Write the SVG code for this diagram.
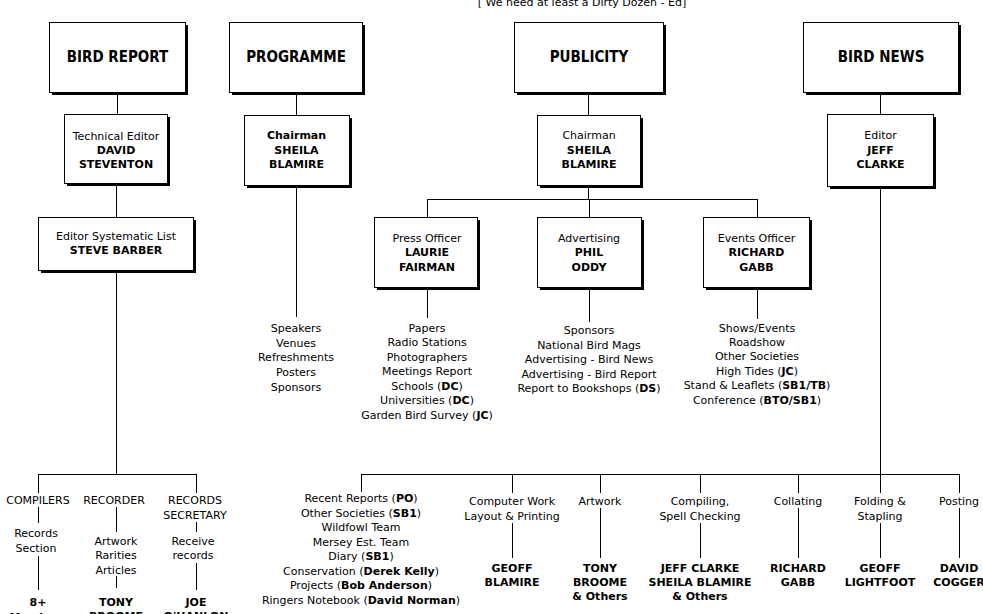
<svg xmlns="http://www.w3.org/2000/svg" width="983" height="614" viewBox="0 0 983 614">
<style>
.sh{fill:#000}
.bx{fill:#fff;stroke:#000;stroke-width:1}
.hd{font-family:"DejaVu Sans Condensed","DejaVu Sans",sans-serif;font-size:15px;font-weight:bold;fill:#000;text-anchor:middle}
.t{font-family:"DejaVu Sans",sans-serif;font-size:11px;fill:#000;text-anchor:middle}
.b{font-family:"DejaVu Sans",sans-serif;font-size:11px;font-weight:bold;fill:#000;text-anchor:middle}
.k{font-weight:bold}
.c line{stroke:#000;stroke-width:1;shape-rendering:crispEdges}
rect{shape-rendering:crispEdges}
</style>
<rect width="983" height="614" fill="#fff"/>
<text class="t" x="582" y="6" font-size="10">[ We need at least a Dirty Dozen - Ed]</text>

<g class="c" id="connectors">
<line x1="117.5" y1="92" x2="117.5" y2="114"/>
<line x1="116.5" y1="183" x2="116.5" y2="217"/>
<line x1="116.5" y1="270" x2="116.5" y2="474"/>
<line x1="38" y1="474.5" x2="197" y2="474.5"/>
<line x1="38.5" y1="474" x2="38.5" y2="493"/>
<line x1="196.5" y1="474" x2="196.5" y2="493"/>
<line x1="38.5" y1="507" x2="38.5" y2="523"/>
<line x1="38.5" y1="556" x2="38.5" y2="590"/>
<line x1="116.5" y1="507" x2="116.5" y2="532"/>
<line x1="116.5" y1="576" x2="116.5" y2="588"/>
<line x1="196.5" y1="522" x2="196.5" y2="532"/>
<line x1="196.5" y1="563" x2="196.5" y2="590"/>

<line x1="296.5" y1="92" x2="296.5" y2="115"/>
<line x1="296.5" y1="185" x2="296.5" y2="317"/>

<line x1="588.5" y1="92" x2="588.5" y2="115"/>
<line x1="588.5" y1="185" x2="588.5" y2="199"/>
<line x1="427" y1="199.5" x2="758" y2="199.5"/>
<line x1="427.5" y1="199" x2="427.5" y2="217"/>
<line x1="589.5" y1="199" x2="589.5" y2="217"/>
<line x1="757.5" y1="199" x2="757.5" y2="217"/>
<line x1="427.5" y1="287" x2="427.5" y2="318"/>
<line x1="589.5" y1="287" x2="589.5" y2="322"/>
<line x1="757.5" y1="287" x2="757.5" y2="319"/>

<line x1="880.5" y1="92" x2="880.5" y2="114"/>
<line x1="880.5" y1="186" x2="880.5" y2="493"/>
<line x1="361" y1="474.5" x2="960" y2="474.5"/>
<line x1="361.5" y1="474" x2="361.5" y2="492"/>
<line x1="512.5" y1="474" x2="512.5" y2="493"/>
<line x1="600.5" y1="474" x2="600.5" y2="493"/>
<line x1="700.5" y1="474" x2="700.5" y2="493"/>
<line x1="798.5" y1="474" x2="798.5" y2="493"/>
<line x1="959.5" y1="474" x2="959.5" y2="493"/>
<line x1="512.5" y1="523" x2="512.5" y2="558"/>
<line x1="600.5" y1="508" x2="600.5" y2="558"/>
<line x1="700.5" y1="523" x2="700.5" y2="558"/>
<line x1="798.5" y1="508" x2="798.5" y2="558"/>
<line x1="880.5" y1="523" x2="880.5" y2="558"/>
<line x1="959.5" y1="508" x2="959.5" y2="558"/>
</g>

<g id="bird-report">
<rect class="sh" x="52" y="25" width="136" height="70"/>
<rect class="bx" x="49.5" y="22.5" width="136" height="70"/>
<text class="hd" x="117.5" y="62">BIRD REPORT</text>
</g>
<g id="programme">
<rect class="sh" x="232" y="25" width="133" height="70"/>
<rect class="bx" x="229.5" y="22.5" width="133" height="70"/>
<text class="hd" x="296" y="62">PROGRAMME</text>
</g>
<g id="publicity">
<rect class="sh" x="517" y="25" width="149" height="70"/>
<rect class="bx" x="514.5" y="22.5" width="149" height="70"/>
<text class="hd" x="589" y="62">PUBLICITY</text>
</g>
<g id="bird-news">
<rect class="sh" x="806" y="25" width="155" height="70"/>
<rect class="bx" x="803.5" y="22.5" width="155" height="70"/>
<text class="hd" x="881" y="62">BIRD NEWS</text>
</g>

<g id="technical-editor">
<rect class="sh" x="67" y="117" width="103" height="69"/>
<rect class="bx" x="64.5" y="114.5" width="103" height="69"/>
<text class="t" x="116" y="140">Technical Editor</text>
<text class="b" x="116" y="154">DAVID</text>
<text class="b" x="116" y="168">STEVENTON</text>
</g>
<g id="editor-systematic-list">
<rect class="sh" x="41" y="220" width="155" height="53"/>
<rect class="bx" x="38.5" y="217.5" width="155" height="53"/>
<text class="t" x="116" y="240">Editor Systematic List</text>
<text class="b" x="116" y="254">STEVE BARBER</text>
</g>
<g id="programme-chairman">
<rect class="sh" x="247" y="118" width="105" height="70"/>
<rect class="bx" x="244.5" y="115.5" width="105" height="70"/>
<text class="b" x="296.5" y="139">Chairman</text>
<text class="b" x="296.5" y="154">SHEILA</text>
<text class="b" x="296.5" y="168">BLAMIRE</text>
</g>
<g id="publicity-chairman">
<rect class="sh" x="540" y="118" width="103" height="70"/>
<rect class="bx" x="537.5" y="115.5" width="103" height="70"/>
<text class="t" x="589" y="139">Chairman</text>
<text class="b" x="589" y="154">SHEILA</text>
<text class="b" x="589" y="168">BLAMIRE</text>
</g>
<g id="bird-news-editor">
<rect class="sh" x="830" y="117" width="106" height="72"/>
<rect class="bx" x="827.5" y="114.5" width="106" height="72"/>
<text class="t" x="880.5" y="139">Editor</text>
<text class="b" x="880.5" y="154">JEFF</text>
<text class="b" x="880.5" y="168">CLARKE</text>
</g>
<g id="press-officer">
<rect class="sh" x="377" y="220" width="103" height="70"/>
<rect class="bx" x="374.5" y="217.5" width="103" height="70"/>
<text class="t" x="427" y="242">Press Officer</text>
<text class="b" x="427" y="256">LAURIE</text>
<text class="b" x="427" y="271">FAIRMAN</text>
</g>
<g id="advertising">
<rect class="sh" x="540" y="220" width="104" height="70"/>
<rect class="bx" x="537.5" y="217.5" width="104" height="70"/>
<text class="t" x="589" y="242">Advertising</text>
<text class="b" x="589" y="256">PHIL</text>
<text class="b" x="589" y="271">ODDY</text>
</g>
<g id="events-officer">
<rect class="sh" x="706" y="220" width="106" height="70"/>
<rect class="bx" x="703.5" y="217.5" width="106" height="70"/>
<text class="t" x="756.5" y="242">Events Officer</text>
<text class="b" x="756.5" y="256">RICHARD</text>
<text class="b" x="756.5" y="271">GABB</text>
</g>

<g id="programme-list">
<text class="t" x="296" y="332">Speakers</text>
<text class="t" x="296" y="347">Venues</text>
<text class="t" x="296" y="361">Refreshments</text>
<text class="t" x="296" y="376">Posters</text>
<text class="t" x="296" y="391">Sponsors</text>
</g>
<g id="press-list">
<text class="t" x="427" y="332">Papers</text>
<text class="t" x="427" y="346">Radio Stations</text>
<text class="t" x="427" y="361">Photographers</text>
<text class="t" x="427" y="375">Meetings Report</text>
<text class="t" x="427" y="390">Schools (<tspan class="k">DC</tspan>)</text>
<text class="t" x="427" y="404">Universities (<tspan class="k">DC</tspan>)</text>
<text class="t" x="427" y="419">Garden Bird Survey (<tspan class="k">JC</tspan>)</text>
</g>
<g id="advertising-list">
<text class="t" x="589" y="334">Sponsors</text>
<text class="t" x="589" y="349">National Bird Mags</text>
<text class="t" x="589" y="363">Advertising - Bird News</text>
<text class="t" x="589" y="378">Advertising - Bird Report</text>
<text class="t" x="589" y="392">Report to Bookshops (<tspan class="k">DS</tspan>)</text>
</g>
<g id="events-list">
<text class="t" x="757" y="332">Shows/Events</text>
<text class="t" x="757" y="346">Roadshow</text>
<text class="t" x="757" y="360">Other Societies</text>
<text class="t" x="757" y="375">High Tides (<tspan class="k">JC</tspan>)</text>
<text class="t" x="757" y="389">Stand &amp; Leaflets (<tspan class="k">SB1/TB</tspan>)</text>
<text class="t" x="757" y="404">Conference (<tspan class="k">BTO/SB1</tspan>)</text>
</g>

<g id="compilers">
<text class="t" x="38" y="504">COMPILERS</text>
<text class="t" x="36" y="537">Records</text>
<text class="t" x="36" y="552">Section</text>
<text class="b" x="38" y="606">8+</text>
<text class="b" x="38" y="621">Members</text>
</g>
<g id="recorder">
<text class="t" x="114" y="504">RECORDER</text>
<text class="t" x="116" y="545">Artwork</text>
<text class="t" x="116" y="559">Rarities</text>
<text class="t" x="116" y="574">Articles</text>
<text class="b" x="116" y="606">TONY</text>
<text class="b" x="116" y="620">BROOME</text>
</g>
<g id="records-secretary">
<text class="t" x="195" y="504">RECORDS</text>
<text class="t" x="195" y="519">SECRETARY</text>
<text class="t" x="193" y="545">Receive</text>
<text class="t" x="193" y="559">records</text>
<text class="b" x="196" y="606">JOE</text>
<text class="b" x="196" y="620">O'HANLON</text>
</g>

<g id="bird-news-misc">
<text class="t" x="361" y="502">Recent Reports (<tspan class="k">PO</tspan>)</text>
<text class="t" x="361" y="517">Other Societies (<tspan class="k">SB1</tspan>)</text>
<text class="t" x="361" y="531">Wildfowl Team</text>
<text class="t" x="361" y="546">Mersey Est. Team</text>
<text class="t" x="361" y="560">Diary (<tspan class="k">SB1</tspan>)</text>
<text class="t" x="361" y="575">Conservation (<tspan class="k">Derek Kelly</tspan>)</text>
<text class="t" x="361" y="589">Projects (<tspan class="k">Bob Anderson</tspan>)</text>
<text class="t" x="361" y="604">Ringers Notebook (<tspan class="k">David Norman</tspan>)</text>
</g>
<g id="computer-work">
<text class="t" x="512" y="505">Computer Work</text>
<text class="t" x="512" y="520">Layout &amp; Printing</text>
<text class="b" x="512" y="572">GEOFF</text>
<text class="b" x="512" y="586">BLAMIRE</text>
</g>
<g id="artwork">
<text class="t" x="600" y="505">Artwork</text>
<text class="b" x="600" y="572">TONY</text>
<text class="b" x="600" y="586">BROOME</text>
<text class="b" x="600" y="600">&amp; Others</text>
</g>
<g id="compiling">
<text class="t" x="700" y="505">Compiling,</text>
<text class="t" x="700" y="520">Spell Checking</text>
<text class="b" x="700" y="572">JEFF CLARKE</text>
<text class="b" x="700" y="586">SHEILA BLAMIRE</text>
<text class="b" x="700" y="600">&amp; Others</text>
</g>
<g id="collating">
<text class="t" x="798" y="505">Collating</text>
<text class="b" x="798" y="572">RICHARD</text>
<text class="b" x="798" y="586">GABB</text>
</g>
<g id="folding">
<text class="t" x="880" y="505">Folding &amp;</text>
<text class="t" x="880" y="520">Stapling</text>
<text class="b" x="880" y="572">GEOFF</text>
<text class="b" x="880" y="586">LIGHTFOOT</text>
</g>
<g id="posting">
<text class="t" x="959" y="505">Posting</text>
<text class="b" x="959" y="572">DAVID</text>
<text class="b" x="959" y="586">COGGER</text>
</g>
</svg>
